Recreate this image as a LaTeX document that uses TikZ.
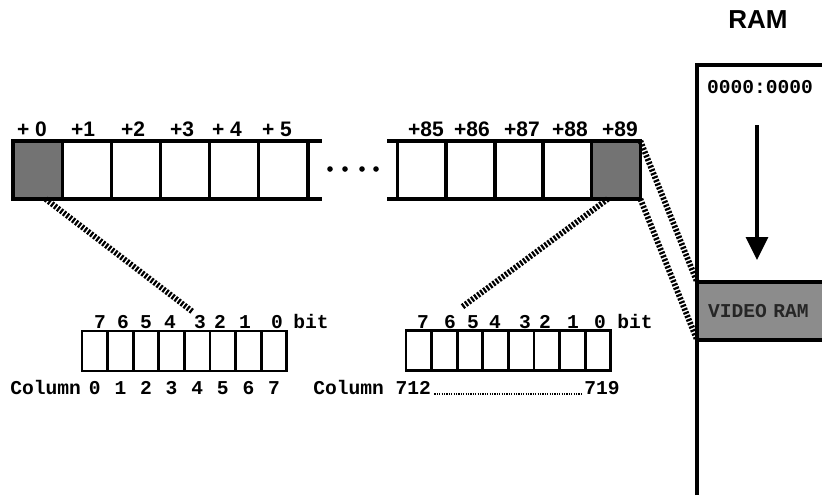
\documentclass[tikz,border=0pt]{standalone}
\usepackage{fontspec}
\setmainfont{Liberation Sans}
\setmonofont{Liberation Mono}
\usetikzlibrary{arrows.meta}
\tikzset{
  cell/.style={draw, line width=1.6pt, minimum width=24.6pt, minimum height=29pt, inner sep=0pt, outer sep=0pt},
  shaded/.style={fill=black!55},
  bitcell/.style={draw, line width=1.4pt, minimum width=12.8pt, minimum height=20pt, inner sep=0pt, outer sep=0pt},
  offs/.style={font=\fontsize{10.5}{12}\selectfont\bfseries, inner sep=0pt, anchor=base},
  mono/.style={font=\fontsize{9.8}{11}\selectfont\ttfamily\bfseries, inner sep=0pt, anchor=base},
  hatch/.style={line width=2.9pt, dash pattern=on 1.1pt off 0.8pt},
}
\begin{document}
\begin{tikzpicture}[x=0.5pt, y=-0.5pt]
\useasboundingbox (0,0) rectangle (822,495);
\node[cell, shaded] (c0) at (37.6,170) {};
\node[offs] (l0) at (32,136) {+ 0};
\foreach \i/\lab/\lx in {1/+1/83, 2/+2/133, 3/+3/182, 4/+ 4/227, 5/+ 5/277} {
  \node[cell] (c\i) at ({37.6+49.17*\i},170) {};
  \node[offs] (l\i) at (\lx,136) {\lab};
}
\foreach \i/\lx in {85/426, 86/472, 87/522, 88/570} {
  \node[cell] (c\i) at ({422.2+48.4*(\i-85)},170) {};
  \node[offs] (l\i) at (\lx,136) {+\i};
}
\node[cell, shaded] (c89) at (615.8,170) {};
\node[offs] (l89) at (620,136) {+89};
\draw[line width=1.6pt] (c5.north east) -- ++(14,0);
\draw[line width=1.6pt] (c5.south east) -- ++(14,0);
\draw[line width=1.6pt] (c85.north west) -- ++(-11,0);
\draw[line width=1.6pt] (c85.south west) -- ++(-11,0);
\foreach \x in {330,345,362,376} \fill (\x,169) circle (1.4pt);
\foreach \i in {0,...,7} {
  \node[bitcell] (a\i) at ({94.8+25.6*\i},351) {};
  \node[bitcell] (b\i) at ({418.8+25.6*\i},350.5) {};
  \node[mono] (col\i) at ({94.8+25.6*\i},394) {\i};
}
\foreach \d/\x in {7/100, 6/123, 5/146, 4/170, 3/200, 2/220, 1/245, 0/277}
  \node[mono] (ad\d) at (\x,328) {\d};
\foreach \d/\x in {7/423, 6/450, 5/473, 4/495, 3/525, 2/545, 1/573, 0/600}
  \node[mono] (bd\d) at (\x,328) {\d};
\node[mono] (bitL) at (311,328) {bit};
\node[mono] (bitR) at (635,328) {bit};
\node[mono, anchor=base west] (colL) at (10,394) {Column};
\node[mono, anchor=base west] (colR) at (313,394) {Column 712};
\node[mono, anchor=base east] (col719) at (620,394) {719};
\draw[line width=0.8pt, dash pattern=on 0.6pt off 0.6pt, shorten <=1.5pt, shorten >=1.5pt] (colR.base east) -- (col719.base west);
\node[font=\fontsize{13}{15}\selectfont\bfseries, anchor=base] (ram) at (758,28) {RAM};
\draw[line width=1.9pt] (697,495) -- (697,65) -- (822,65);
\node[mono] (addr) at (760,93) {0000:0000};
\node[draw, fill=black!45, line width=1.6pt, outer sep=0pt, anchor=west, font=\fontsize{9.8}{11}\selectfont\ttfamily\bfseries, text=black!85,
  text width=64pt, inner xsep=5.5pt, align=left, minimum height=29pt] (vram) at (697,311) {VIDEO RAM};
\coordinate (arrtop) at (757,125);
\coordinate (arrtip) at (757,260);
\draw[line width=1.6pt, -{Triangle[width=11pt,length=11.5pt]}] (arrtop) -- (arrtip);
\coordinate (lend) at (193,312);
\coordinate (rend) at (462,307);
\draw[hatch] ([xshift=4pt]c0.south) -- (lend);
\draw[hatch] ([xshift=-4pt]c89.south) -- (rend);
\draw[hatch] (c89.north east) -- (vram.north west);
\draw[hatch] (c89.south east) -- (vram.south west);
\end{tikzpicture}
\end{document}
